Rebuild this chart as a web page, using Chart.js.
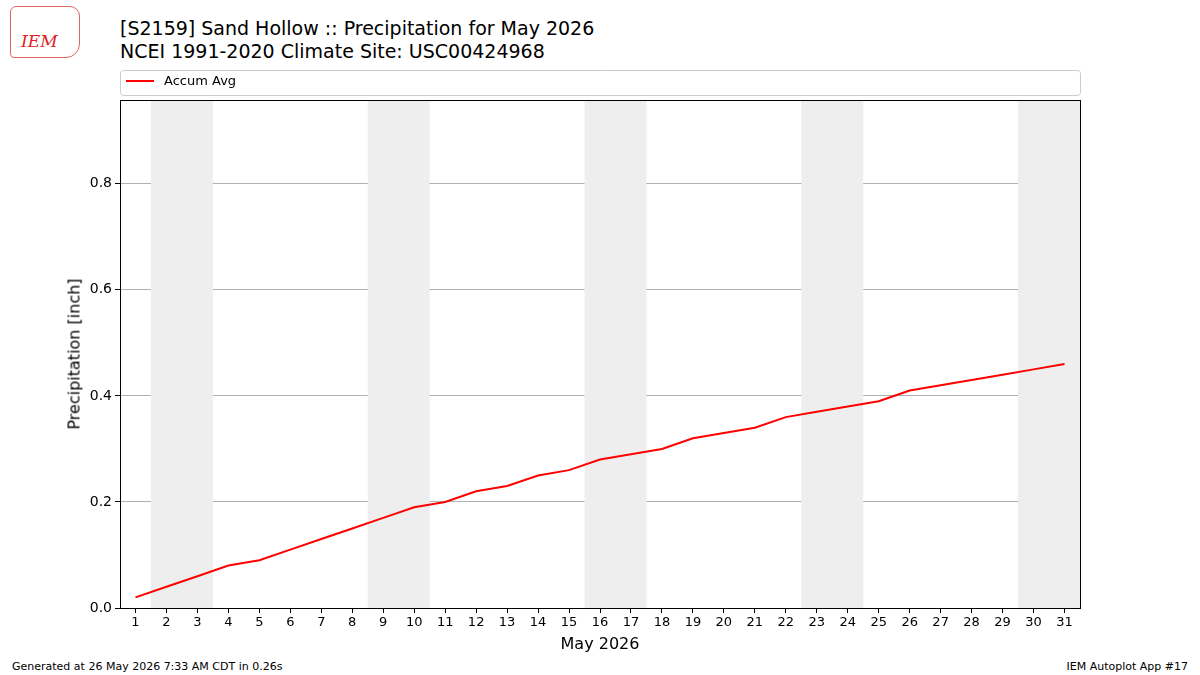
<!DOCTYPE html>
<html>
<head>
<meta charset="utf-8">
<script src="https://cdn.jsdelivr.net/npm/chart.js@4"></script>
<style>
  body { margin:0; width:1200px; height:675px; background:#fff; font-family:"DejaVu Sans", sans-serif; position:relative; overflow:hidden; }
  #c { position:absolute; left:0; top:0; }
  .t { position:absolute; color:#000; white-space:nowrap; }
  #logo { position:absolute; left:10px; top:6px; width:68px; height:50px; border:1px solid #d66; border-radius:6px 10px 14px 4px; }
  #logo span { position:absolute; left:10px; top:24px; color:#d22; font-family:"DejaVu Serif", serif; font-style:italic; font-size:17px; }
</style>
</head>
<body>
<div id="logo"><span>IEM</span></div>
<div class="t" style="left:120px;top:17px;font-size:19px;">[S2159] Sand Hollow :: Precipitation for May 2026</div>
<div class="t" style="left:120px;top:40px;font-size:19px;">NCEI 1991-2020 Climate Site: USC00424968</div>
<div class="t" style="left:12px;top:660px;font-size:11px;">Generated at 26 May 2026 7:33 AM CDT in 0.26s</div>
<div class="t" style="right:12px;top:660px;font-size:11px;">IEM Autoplot App #17</div>
<canvas id="c" width="1200" height="675"></canvas>
<div class="t" style="left:600px;top:634px;font-size:16px;transform:translateX(-50%);">May 2026</div>
<div class="t" style="left:74px;top:354px;font-size:16px;transform:translate(-50%,-50%) rotate(-90deg);">Precipitation [inch]</div>
<script>
const days = [1,2,3,4,5,6,7,8,9,10,11,12,13,14,15,16,17,18,19,20,21,22,23,24,25,26,27,28,29,30,31];
const accumAvg = [0.02,0.04,0.06,0.08,0.09,0.11,0.13,0.15,0.17,0.19,0.20,0.22,0.23,0.25,0.26,0.28,0.29,0.30,0.32,0.33,0.34,0.36,0.37,0.38,0.39,0.41,0.42,0.43,0.44,0.45,0.46];
const weekends = [[1.5,3.5],[8.5,10.5],[15.5,17.5],[22.5,24.5],[29.5,31.5]];

const shade = {
  id: 'shade',
  beforeDatasetsDraw(chart) {
    const {ctx, chartArea: a, scales: {x}} = chart;
    ctx.save();
    ctx.fillStyle = '#eeeeee';
    weekends.forEach(w => {
      const x0 = x.getPixelForValue(w[0]), x1 = x.getPixelForValue(w[1]);
      ctx.fillRect(x0, a.top, x1 - x0, a.bottom - a.top);
    });
    ctx.restore();
  },
  afterDraw(chart) {
    const {ctx, chartArea: a} = chart;
    ctx.save();
    ctx.strokeStyle = '#000'; ctx.lineWidth = 1;
    ctx.strokeRect(a.left + 0.5, a.top + 0.5, a.right - a.left, a.bottom - a.top);
    ctx.strokeStyle = '#ccc';
    ctx.beginPath(); ctx.roundRect(120.5, 70.5, 960, 25, 3); ctx.stroke();
    ctx.strokeStyle = 'red'; ctx.lineWidth = 2;
    ctx.beginPath(); ctx.moveTo(126, 81); ctx.lineTo(154, 81); ctx.stroke();
    ctx.fillStyle = '#000'; ctx.font = '13px "DejaVu Sans"'; ctx.textBaseline = 'middle';
    ctx.fillText('Accum Avg', 164, 82);
    ctx.restore();
  }
};

new Chart(document.getElementById('c'), {
  type: 'line',
  data: { datasets: [{
    label: 'Accum Avg',
    data: days.map((d, i) => ({x: d, y: accumAvg[i]})),
    borderColor: 'red', borderWidth: 2, pointRadius: 0, tension: 0
  }]},
  options: {
    responsive: false, animation: false,
    layout: { padding: { left: 0, top: 100, right: 120, bottom: 0 } },
    plugins: { legend: { display: false }, tooltip: { enabled: false } },
    scales: {
      x: {
        type: 'linear', min: 0.5, max: 31.5,
        afterFit(s) { s.height = 67; },
        afterBuildTicks(s) { s.ticks = days.map(d => ({value: d})); },
        grid: { drawOnChartArea: false, drawTicks: true, tickColor: '#000', tickLength: 5 },
        border: { display: false },
        ticks: { color: '#000', padding: 2, font: { size: 13, family: 'DejaVu Sans' }, maxRotation: 0, autoSkip: false }
      },
      y: {
        min: 0, max: 0.958,
        afterFit(s) { s.width = 120; },
        afterBuildTicks(s) { s.ticks = [0,0.2,0.4,0.6,0.8].map(v => ({value: v})); },
        grid: { color: '#b0b0b0', drawTicks: true, tickColor: '#000', tickLength: 5 },
        border: { display: false },
        ticks: { color: '#000', font: { size: 14, family: 'DejaVu Sans' }, callback: v => v.toFixed(1) }
      }
    }
  },
  plugins: [shade]
});
</script>
</body>
</html>
